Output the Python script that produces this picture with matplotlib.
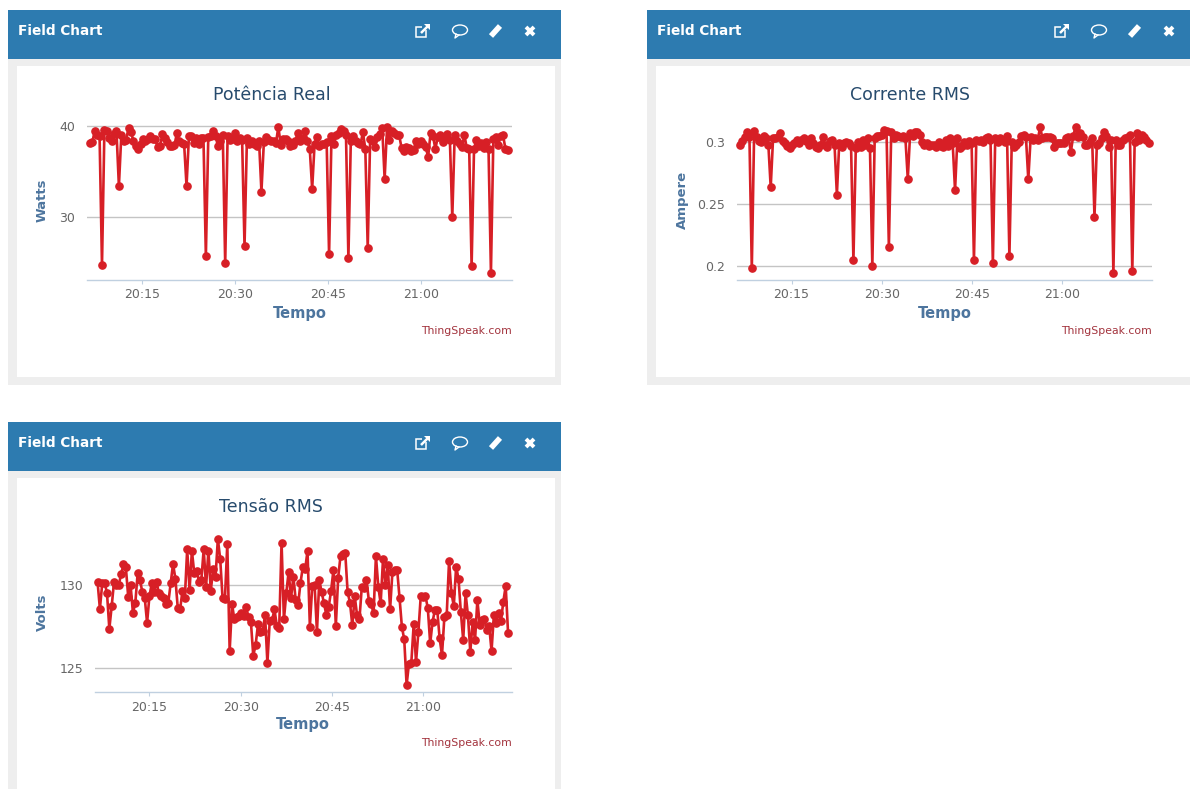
import numpy as np
import matplotlib
matplotlib.use("Agg")
import matplotlib.pyplot as plt
from matplotlib.patches import Rectangle, Ellipse, Polygon

# ---- data; time is minutes after 20:00 ----
potencia = [38.1,38.2,39.5,39.0,38.9,24.7,39.6,39.5,38.7,38.3,39.1,39.4,33.4,39.0,38.4,38.5,39.8,39.3,38.4,37.8,
37.5,38.0,38.6,38.4,38.6,38.9,38.6,38.6,37.7,37.8,39.1,38.7,38.2,37.8,37.8,37.9,39.2,38.3,38.1,38.0,
33.4,38.9,38.9,38.1,38.7,38.0,38.7,38.7,25.7,38.8,38.9,39.4,38.9,37.8,38.3,39.0,24.9,38.9,38.5,38.6,
39.2,38.3,38.7,38.5,26.8,38.7,38.0,38.4,38.0,37.8,38.4,32.8,38.2,38.8,38.5,38.3,38.4,38.1,39.9,37.9,
38.6,38.6,38.4,37.8,37.9,38.3,39.2,38.4,38.6,39.5,38.4,37.5,33.1,38.0,38.8,37.8,38.0,38.0,38.2,25.9,
38.9,38.0,39.0,39.2,39.7,39.4,39.0,25.5,38.4,38.9,38.3,38.1,38.0,39.3,37.5,26.6,38.6,38.3,37.7,38.8,
39.1,39.8,34.2,39.9,38.5,39.4,39.2,39.0,39.0,37.6,37.2,37.7,37.6,37.2,37.4,38.4,38.0,38.3,38.0,37.7,
36.6,39.2,38.9,37.5,38.8,39.0,38.2,38.6,39.1,38.5,30.0,39.0,38.4,38.0,37.7,39.0,37.6,37.5,24.6,37.5,
38.5,37.8,38.1,37.6,38.2,37.5,23.9,38.6,38.8,37.9,38.9,39.0,37.5,37.4]

corrente = [.298,.301,.304,.308,.304,.198,.309,.304,.301,.300,.305,.303,.298,.2635,.303,.303,.304,.307,.301,.299,
.297,.295,.298,.299,.302,.299,.302,.303,.301,.298,.303,.299,.296,.295,.298,.304,.298,.296,.301,.302,
.298,.2575,.299,.296,.299,.300,.299,.297,.2045,.295,.300,.296,.302,.298,.303,.295,.2003,.303,.305,.305,
.306,.310,.309,.2155,.308,.303,.306,.305,.304,.305,.303,.2704,.307,.305,.308,.308,.306,.300,.298,.299,
.297,.298,.298,.296,.300,.297,.296,.302,.297,.303,.299,.261,.303,.295,.297,.300,.298,.301,.299,.2045,
.302,.301,.302,.300,.303,.304,.302,.2021,.303,.300,.303,.302,.300,.305,.2078,.300,.296,.298,.300,.305,
.306,.304,.2698,.304,.302,.303,.302,.312,.303,.304,.304,.304,.303,.296,.299,.299,.299,.299,.303,.304,
.292,.305,.312,.304,.307,.304,.298,.298,.300,.303,.2398,.298,.299,.303,.308,.305,.296,.302,.1946,.302,
.298,.298,.302,.303,.304,.306,.196,.300,.307,.302,.306,.304,.302,.299]

tensao = [130.18,128.56,130.08,130.08,129.52,127.36,128.72,130.18,129.98,129.98,130.64,131.22,131.04,129.28,129.98,
128.32,128.88,130.68,130.28,129.54,129.22,127.72,129.32,130.08,129.58,130.18,129.48,129.34,129.18,128.84,128.92,
130.08,131.24,130.36,128.62,128.52,129.64,129.18,132.12,129.68,132.02,130.68,130.84,130.18,130.28,132.12,129.88,
132.04,129.64,130.92,130.44,132.74,131.52,129.18,129.14,132.44,126.04,128.84,127.92,128.04,128.12,128.32,128.12,
128.68,128.04,127.78,125.76,126.38,127.62,127.18,127.22,128.18,125.32,127.84,127.88,128.52,127.52,127.38,132.52,
127.92,129.48,130.78,129.18,130.48,129.08,128.78,
130.08,131.04,130.92,132.02,127.48,129.92,129.98,127.18,130.28,129.54,128.88,128.18,128.68,129.64,130.88,127.54,
130.42,131.74,131.84,131.88,129.56,128.92,127.56,129.32,128.18,127.92,129.84,129.78,130.28,129.04,128.84,128.28,
131.72,129.88,128.88,131.52,129.98,131.18,128.52,130.78,130.88,130.88,129.22,127.48,126.72,124.0,125.28,125.32,
127.62,125.38,127.18,129.32,129.28,129.32,128.58,126.48,127.78,128.48,128.48,126.78,125.78,128.04,128.18,131.44,
129.52,128.72,131.08,130.36,128.34,126.68,129.48,128.16,125.98,127.78,126.68,129.08,127.58,127.88,127.94,127.28,
127.52,126.04,128.18,127.72,128.32,127.84,128.98,129.92,127.12]

titles = ["Potência Real", "Corrente RMS", "Tensão RMS"]
ylabels = ["Watts", "Ampere", "Volts"]
xlabel = "Tempo"
time_ticks = [15, 30, 45, 60]
time_labels = ["20:15", "20:30", "20:45", "21:00"]
yticks_p = [30, 40]
yticks_c = [0.2, 0.25, 0.3]
yticks_t = [125, 130]
ylabels_p = ["30", "40"]
ylabels_c = ["0.2", "0.25", "0.3"]
ylabels_t = ["125", "130"]
time_span_p = (6.63, 74.03)
time_span_c = (6.41, 74.47)
time_span_t = (6.45, 74.00)

W, H = 1190, 789
BLUE = "#2d7bb0"; GRAY = "#eeeeee"; RED = "#d71f26"
fig = plt.figure(figsize=(W / 100, H / 100), dpi=100, facecolor="white")
plt.rcParams["font.family"] = "DejaVu Sans"

chrome = fig.add_axes([0, 0, 1, 1], zorder=0)
chrome.set_xlim(0, W); chrome.set_ylim(H, 0); chrome.axis("off")


def icons(cx, cy):
    x, y = cx[0], cy
    chrome.add_patch(Rectangle((x - 7, y - 4), 10, 10, fill=False, ec="white", lw=1.1))
    chrome.add_patch(Rectangle((x - 1, y - 8), 9, 7, fc=BLUE, ec="none"))
    chrome.plot([x - 2, x + 6], [y + 2, y - 6], color="white", lw=1.8, solid_capstyle="butt")
    chrome.add_patch(Polygon([(x + 1, y - 7), (x + 7, y - 7), (x + 7, y - 1)], fc="white", ec="none"))
    x = cx[1]
    chrome.add_patch(Ellipse((x, y - 1), 15, 10, fill=False, ec="white", lw=1.0))
    chrome.plot([x - 4, x - 5, x - 1], [y + 3, y + 7, y + 4], color="white", lw=1.0)
    x = cx[2]
    chrome.plot([x - 5, x + 4], [y + 5, y - 5], color="white", lw=4, solid_capstyle="butt")
    x = cx[3]
    chrome.plot([x - 4, x + 4], [y - 4, y + 4], color="white", lw=2.8, solid_capstyle="butt")
    chrome.plot([x - 4, x + 4], [y + 4, y - 4], color="white", lw=2.8, solid_capstyle="butt")


def panel(left, top, right, bottom, white_top, white_left, white_right, white_bottom, text_x, icon_x):
    chrome.add_patch(Rectangle((left, top), right - left, bottom - top, fc=GRAY, ec="none"))
    chrome.add_patch(Rectangle((left, top), right - left, 49, fc=BLUE, ec="none"))
    chrome.add_patch(Rectangle((white_left, white_top), white_right - white_left, white_bottom - white_top, fc="white", ec="none"))
    chrome.text(text_x, top + 21, "Field Chart", color="white", fontsize=9.8, fontweight="bold", va="center", ha="left")
    icons(icon_x, top + 21)


panel(8, 10, 561, 385, 66, 16.5, 554.5, 377, 18, [423, 460, 496, 530])
panel(647, 10, 1190, 385, 66, 656, 1190, 377, 657, [1062, 1099, 1135, 1169])
panel(8, 422, 561, 789, 478, 16.5, 554.5, 789, 18, [423, 460, 496, 530])


def chart(values, span, box, xlim, ylim, yticks, ylabs, title, ylab,
          title_c, xlabel_c, ylabel_c, credit_y):
    l, t, r, b = box
    ax = fig.add_axes([l / W, 1 - b / H, (r - l) / W, (b - t) / H], zorder=2)
    ax.patch.set_visible(False)
    times = np.linspace(span[0], span[1], len(values))
    ax.plot(times, values, color=RED, lw=1.9, marker="o", ms=5.2, mec=RED, mfc=RED,
            clip_on=False, zorder=3)
    ax.set_xlim(*xlim); ax.set_ylim(*ylim)
    for s in ["top", "left", "right"]:
        ax.spines[s].set_visible(False)
    ax.spines["bottom"].set_color("#c0d0e0")
    ax.spines["bottom"].set_linewidth(1.0)
    ax.set_xticks(time_ticks, time_labels)
    ax.set_yticks(yticks, ylabs)
    ax.tick_params(axis="x", length=3, width=0.8, color="#c0d0e0", labelcolor="#666666", labelsize=9, pad=3)
    ax.tick_params(axis="y", length=0, labelcolor="#666666", labelsize=9, pad=8)
    ax.yaxis.grid(True, color="#c4c4c4", lw=1.0, zorder=1)
    ax.set_axisbelow(True)
    ax.set_title(title, x=(title_c[0] - l) / (r - l), y=1 + (t - title_c[1]) / (b - t),
                 color="#274b6d", fontsize=12.5, va="center", ha="center", pad=0)
    ax.set_xlabel(xlabel, color="#4d759e", fontsize=10.5, fontweight="bold", va="center", ha="center")
    ax.xaxis.set_label_coords((xlabel_c[0] - l) / (r - l), (b - xlabel_c[1]) / (b - t))
    ax.set_ylabel(ylab, color="#4d759e", fontsize=9.5, fontweight="bold", va="center", ha="center")
    ax.yaxis.set_label_coords((ylabel_c[0] - l) / (r - l), (b - ylabel_c[1]) / (b - t))
    ax.text(1, (b - credit_y) / (b - t), "ThingSpeak.com", transform=ax.transAxes,
            color="#a3333d", fontsize=7.8, ha="right", va="center")
    return ax


chart(potencia, time_span_p, (86.5, 118, 512, 280), (6.08, 74.7), (23.08, 40.88), yticks_p, ylabels_p,
      titles[0], ylabels[0], (271.5, 95), (300, 313), (42.5, 200), 331)
chart(corrente, time_span_c, (736.5, 118, 1151.6, 280), (5.83, 74.93), (0.1887, 0.3194), yticks_c, ylabels_c,
      titles[1], ylabels[1], (910, 95), (944.6, 313), (682, 200), 331)
chart(tensao, time_span_t, (94.5, 530, 512, 692.3), (5.95, 74.65), (123.56, 133.27), yticks_t, ylabels_t,
      titles[2], ylabels[2], (271, 507), (303, 725), (42.5, 612), 743)

fig.savefig("out.png", dpi=100)
